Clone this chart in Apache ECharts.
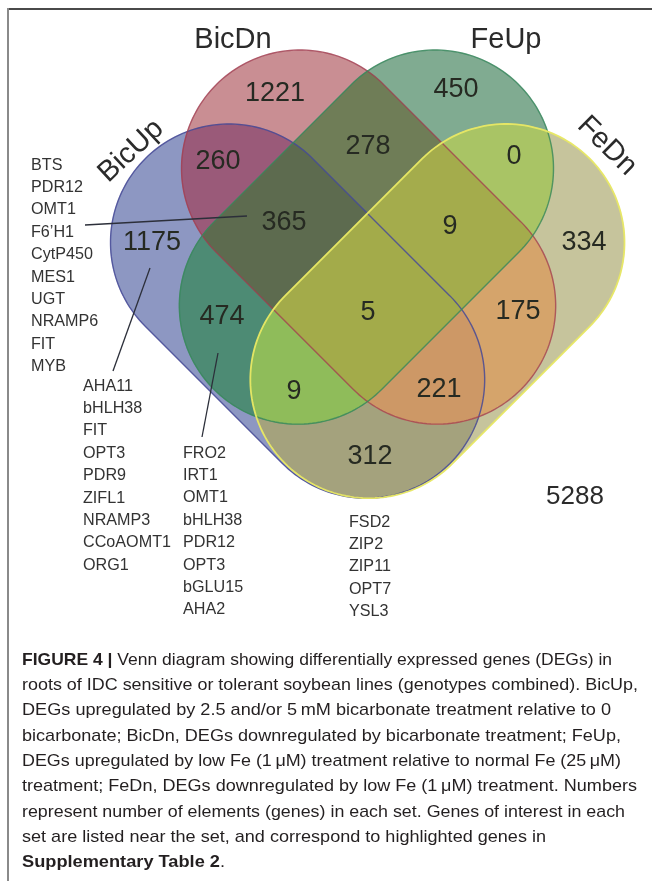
<!DOCTYPE html>
<html>
<head>
<meta charset="utf-8">
<script src="https://cdn.jsdelivr.net/npm/echarts@6/dist/echarts.min.js"></script>
<style>
  html, body { margin: 0; padding: 0; background: #ffffff; }
  #chart { width: 652px; height: 881px; }
</style>
</head>
<body>
<div id="chart"></div>
<script>
// ---- Data -------------------------------------------------------------
const setNames = ['BicUp', 'BicDn', 'FeUp', 'FeDn'];
// each region = the list of sets (by index) it belongs to
const regionMembers = [
  [0], [1], [2], [3],
  [0, 1], [1, 2], [2, 3], [0, 3], [0, 2], [1, 3],
  [0, 1, 2], [1, 2, 3], [0, 2, 3], [0, 1, 3],
  [0, 1, 2, 3]
];
const regionCounts = [1175, 1221, 450, 334, 260, 278, 0, 312, 474, 175, 365, 9, 9, 221, 5];
const outsideCount = 5288;

const genes365 = ['BTS', 'PDR12', 'OMT1', 'F6\u2019H1', 'CytP450', 'MES1', 'UGT', 'NRAMP6', 'FIT', 'MYB'];
const genes1175 = ['AHA11', 'bHLH38', 'FIT', 'OPT3', 'PDR9', 'ZIFL1', 'NRAMP3', 'CCoAOMT1', 'ORG1'];
const genes474 = ['FRO2', 'IRT1', 'OMT1', 'bHLH38', 'PDR12', 'OPT3', 'bGLU15', 'AHA2'];
const genes312 = ['FSD2', 'ZIP2', 'ZIP11', 'OPT7', 'YSL3'];

const captionLines = [
  '{b|FIGURE 4 |} Venn diagram showing differentially expressed genes (DEGs) in',
  'roots of IDC sensitive or tolerant soybean lines (genotypes combined). BicUp,',
  'DEGs upregulated by 2.5 and/or 5\u2009mM bicarbonate treatment relative to 0',
  'bicarbonate; BicDn, DEGs downregulated by bicarbonate treatment; FeUp,',
  'DEGs upregulated by low Fe (1\u2009\u03bcM) treatment relative to normal Fe (25\u2009\u03bcM)',
  'treatment; FeDn, DEGs downregulated by low Fe (1\u2009\u03bcM) treatment. Numbers',
  'represent number of elements (genes) in each set. Genes of interest in each',
  'set are listed near the set, and correspond to highlighted genes in',
  '{b|Supplementary Table 2}.'
];

// ---- Layout & style ----------------------------------------------------
const W = 652, H = 881;
const SANS = '"Liberation Sans", Arial, Helvetica, sans-serif';
// stadium sets: first cap centre and axis direction
const shapes = [
  { cx: 229, cy: 242.5, dx: 1,  dy: 1 },
  { cx: 300, cy: 168.5, dx: 1,  dy: 1 },
  { cx: 435, cy: 168.5, dx: -1, dy: 1 },
  { cx: 506, cy: 242.5, dx: -1, dy: 1 }
];
const SHAPE_LEN = 194, SHAPE_R = 118.5;
const strokeColors = ['rgba(70,74,150,0.85)', 'rgba(160,60,80,0.75)', 'rgba(55,135,92,0.8)', 'rgba(232,232,100,0.95)'];
const regionColors = [
  '#8d97c2', '#c98e93', '#80ab91', '#c6c49c',
  '#9a5a79', '#6f7d57', '#a9c465', '#a4a27d', '#4d8b74', '#d5a46b',
  '#5d6b4f', '#a4ac4c', '#8fbc5a', '#cd9866',
  '#a3ab4a'
];
const regionLabelPos = [
  [152, 243], [275, 94], [456, 90], [584, 243],
  [218, 162], [368, 147], [514, 157], [370, 457], [222, 317], [518, 312],
  [284, 223], [450, 227], [294, 392], [439, 390],
  [368, 313]
];
// right edge of each caption line
const captionRight = [612, 638, 611, 621, 621, 637, 625, 546, 225];
const CAP_X = 22, CAP_Y = 660, CAP_STEP = 25.35;

// ---- Geometry helpers --------------------------------------------------
function stadium(s, n) {
  const k = Math.hypot(s.dx, s.dy);
  const ux = s.dx / k, uy = s.dy / k;
  const th = Math.atan2(uy, ux);
  const ex = s.cx + ux * SHAPE_LEN, ey = s.cy + uy * SHAPE_LEN;
  const pts = [];
  for (let i = 0; i <= n; i++) {
    const a = th - Math.PI / 2 + Math.PI * i / n;
    pts.push([ex + SHAPE_R * Math.cos(a), ey + SHAPE_R * Math.sin(a)]);
  }
  for (let i = 0; i <= n; i++) {
    const a = th + Math.PI / 2 + Math.PI * i / n;
    pts.push([s.cx + SHAPE_R * Math.cos(a), s.cy + SHAPE_R * Math.sin(a)]);
  }
  return pts;
}
function signedArea(p) {
  let s = 0;
  for (let i = 0; i < p.length; i++) {
    const a = p[i], b = p[(i + 1) % p.length];
    s += a[0] * b[1] - b[0] * a[1];
  }
  return s;
}
function lineHit(p1, p2, a, b) {
  const x1 = p1[0], y1 = p1[1], x2 = p2[0], y2 = p2[1];
  const x3 = a[0], y3 = a[1], x4 = b[0], y4 = b[1];
  const d = (x1 - x2) * (y3 - y4) - (y1 - y2) * (x3 - x4);
  const t = ((x1 - x3) * (y3 - y4) - (y1 - y3) * (x3 - x4)) / d;
  return [x1 + t * (x2 - x1), y1 + t * (y2 - y1)];
}
// convex clipping (Sutherland–Hodgman)
function clipPoly(subject, clip) {
  const sg = Math.sign(signedArea(clip));
  let out = subject;
  for (let i = 0; i < clip.length && out.length; i++) {
    const a = clip[i], b = clip[(i + 1) % clip.length];
    const inside = p => sg * ((b[0] - a[0]) * (p[1] - a[1]) - (b[1] - a[1]) * (p[0] - a[0])) >= 0;
    const inp = out; out = [];
    for (let j = 0; j < inp.length; j++) {
      const cur = inp[j], prev = inp[(j + inp.length - 1) % inp.length];
      const ci = inside(cur), pi = inside(prev);
      if (ci) { if (!pi) out.push(lineHit(prev, cur, a, b)); out.push(cur); }
      else if (pi) out.push(lineHit(prev, cur, a, b));
    }
  }
  return out;
}
const shapePolys = shapes.map(s => stadium(s, 90));
function regionPoly(members) {
  let p = shapePolys[members[0]];
  for (let i = 1; i < members.length; i++) p = clipPoly(p, shapePolys[members[i]]);
  return p;
}

// text measuring for horizontal fitting
const mctx = document.createElement('canvas').getContext('2d');
function textWidth(t, size, weight) {
  mctx.font = (weight || 'normal') + ' ' + size + 'px ' + SANS;
  return mctx.measureText(t).width;
}
function richWidth(line, size) {
  let w = 0;
  const re = /\{b\|([^}]*)\}/g;
  let last = 0, m;
  while ((m = re.exec(line))) {
    w += textWidth(line.slice(last, m.index), size);
    w += textWidth(m[1], size, 'bold');
    last = re.lastIndex;
  }
  w += textWidth(line.slice(last), size);
  return w;
}
const CAP_SIZE = 17;
const GENE_SIZE = 17;
const geneScale = 88 / textWidth('CCoAOMT1', GENE_SIZE);

// ---- Chart -------------------------------------------------------------
const chart = echarts.init(document.getElementById('chart'), null, { renderer: 'canvas' });

const graphics = [];
// frame
graphics.push({ type: 'line', shape: { x1: 7, y1: 9, x2: W, y2: 9 }, style: { stroke: '#4a4a4a', lineWidth: 2 }, z: 10 });
graphics.push({ type: 'line', shape: { x1: 8, y1: 8, x2: 8, y2: H }, style: { stroke: '#8a8a8a', lineWidth: 2 }, z: 10 });

// set titles
const titleStyle = { fontSize: 29, fontFamily: SANS, fill: '#2b2b2b', align: 'center', verticalAlign: 'middle' };
const titlePos = [
  { x: 131, y: 151, rotation: 0.75 },
  { x: 233, y: 40, rotation: 0 },
  { x: 506, y: 40, rotation: 0 },
  { x: 607, y: 146, rotation: -0.78 }
];
setNames.forEach((name, i) => {
  graphics.push({
    type: 'text', x: titlePos[i].x, y: titlePos[i].y, rotation: titlePos[i].rotation, z: 20,
    style: Object.assign({ text: name }, titleStyle)
  });
});

// gene lists
function geneList(list, x, y0) {
  list.forEach((g, i) => {
    graphics.push({
      type: 'text', x: x, y: y0 + i * 22.4, scaleX: geneScale, z: 20,
      style: { text: g, fontSize: GENE_SIZE, fontFamily: SANS, fill: '#333333', align: 'left', verticalAlign: 'middle' }
    });
  });
}
geneList(genes365, 31, 165);
geneList(genes1175, 83, 386);
geneList(genes474, 183, 453);
geneList(genes312, 349, 522);

// leader lines
const leaderStyle = { stroke: '#2c2f3a', lineWidth: 1.3 };
[[85, 225, 247, 216], [150, 268, 113, 371], [218, 353, 202, 437]].forEach(l => {
  graphics.push({ type: 'line', shape: { x1: l[0], y1: l[1], x2: l[2], y2: l[3] }, style: leaderStyle, z: 30 });
});

// elements outside every set
graphics.push({
  type: 'text', x: 575, y: 497, z: 20,
  style: { text: String(outsideCount), fontSize: 26, fontFamily: SANS, fill: '#2b2b2b', align: 'center', verticalAlign: 'middle' }
});

// caption, each line fitted to its measure
captionLines.forEach((line, i) => {
  const sx = (captionRight[i] - CAP_X) / richWidth(line, CAP_SIZE);
  graphics.push({
    type: 'text', x: CAP_X, y: CAP_Y + i * CAP_STEP, scaleX: sx, z: 20,
    style: {
      text: line, fontSize: CAP_SIZE, fontFamily: SANS, fill: '#231f20', align: 'left', verticalAlign: 'middle',
      rich: { b: { fontSize: CAP_SIZE, fontFamily: SANS, fontWeight: 'bold', fill: '#231f20' } }
    }
  });
});

const regionData = regionMembers.map((m, i) => ({ value: [i, regionCounts[i]] }));

chart.setOption({
  animation: false,
  backgroundColor: '#ffffff',
  grid: { left: 0, right: 0, top: 0, bottom: 0 },
  xAxis: { type: 'value', min: 0, max: W, show: false },
  yAxis: { type: 'value', min: 0, max: H, inverse: true, show: false },
  graphic: { elements: graphics },
  series: [
    {
      // filled regions, painted from single sets up to the four-way overlap
      type: 'custom',
      coordinateSystem: 'cartesian2d',
      data: regionData,
      silent: true,
      z: 2,
      renderItem: function (params, api) {
        const idx = params.dataIndex;
        const members = regionMembers[idx];
        const poly = regionPoly(members).map(p => api.coord(p));
        return {
          type: 'polygon',
          z2: members.length * 10,
          shape: { points: poly },
          style: { fill: regionColors[idx], stroke: regionColors[idx], lineWidth: 0.6 }
        };
      }
    },
    {
      // set outlines
      type: 'custom',
      coordinateSystem: 'cartesian2d',
      data: setNames.map((n, i) => [i]),
      silent: true,
      z: 3,
      renderItem: function (params, api) {
        const i = params.dataIndex;
        return {
          type: 'polygon',
          shape: { points: shapePolys[i].map(p => api.coord(p)) },
          style: { fill: 'none', stroke: strokeColors[i], lineWidth: i === 3 ? 1.8 : 1.4 }
        };
      }
    },
    {
      // region counts
      type: 'custom',
      coordinateSystem: 'cartesian2d',
      data: regionCounts.map((c, i) => [i, c]),
      silent: true,
      z: 4,
      renderItem: function (params, api) {
        const i = params.dataIndex;
        const p = api.coord(regionLabelPos[i]);
        return {
          type: 'text',
          x: p[0], y: p[1],
          style: {
            text: String(api.value(1)),
            fontSize: 27, fontFamily: SANS, fill: '#262a22',
            align: 'center', verticalAlign: 'middle'
          }
        };
      }
    }
  ]
});
</script>
</body>
</html>
